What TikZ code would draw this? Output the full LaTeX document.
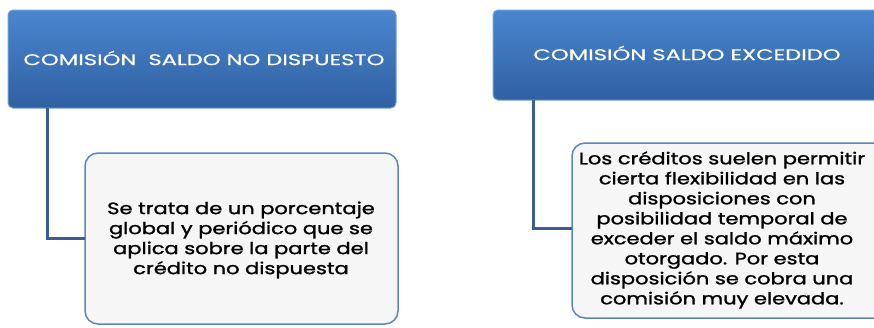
\documentclass[tikz,border=0pt]{standalone}
\usepackage{fontspec}
\setmainfont{Poppins}
\newfontfamily\hdfont{Poppins}[FakeBold=0.5]
\newfontfamily\bdfont{Poppins}[FakeBold=1.2]
\definecolor{hdtop}{HTML}{4A86CF}
\definecolor{hdbot}{HTML}{2F60A2}
\definecolor{hdedge}{HTML}{6FA0DC}
\definecolor{conn}{HTML}{3A5E94}
\definecolor{bxedge}{HTML}{5B86C2}
\definecolor{bxfill}{HTML}{F6F6F6}
\begin{document}
\begin{tikzpicture}[x=1pt,y=-1pt,
  header/.style={draw=hdedge, line width=1pt, rounded corners=5pt, top color=hdtop, bottom color=hdbot},
  hdtext/.style={text=white, font=\hdfont\fontsize{15.5}{18}\selectfont, align=center, transform shape, xscale=1.46},
  infobox/.style={draw=bxedge, line width=1.5pt, rounded corners=13pt, fill=bxfill},
  bdtext/.style={text=black, font=\bdfont\fontsize{16.5}{20}\selectfont, align=center, transform shape, xscale=1.27},
  link/.style={draw=conn, line width=3pt}]
\useasboundingbox (0,0) rectangle (874,327);
% headers
\path[header] (8,10) rectangle (396,108);
\node[hdtext] (h1) at (204,58) {COMISIÓN\ \ SALDO NO DISPUESTO};
\coordinate (h1b) at (47,108);
\path[header] (493,10) rectangle (890,100);
\node[hdtext] (h2) at (687,53) {COMISIÓN SALDO EXCEDIDO};
\coordinate (h2b) at (533,100);
% boxes
\path[infobox] (85,153) rectangle (398,324);
\node[bdtext] (b1) at (241,240) {Se trata de un porcentaje\\global y periódico que se\\aplica sobre la parte del\\crédito no dispuesta};
\coordinate (b1l) at (85,238);
\path[infobox] (572,143) rectangle (890,318);
\node[bdtext] (b2) at (722,230) {Los créditos suelen permitir\\cierta flexibilidad en las\\disposiciones con\\posibilidad temporal de\\exceder el saldo máximo\\otorgado. Por esta\\disposición se cobra una\\comisión muy elevada.};
\coordinate (b2l) at (572,228);
% connectors
\draw[link] (h1b) |- (b1l);
\draw[link] (h2b) |- (b2l);
\end{tikzpicture}
\end{document}
